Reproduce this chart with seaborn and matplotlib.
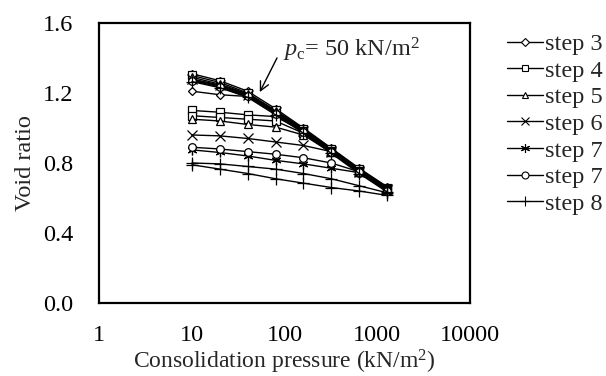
import numpy as np
import pandas as pd
import matplotlib
matplotlib.use("Agg")
import matplotlib.pyplot as plt
from matplotlib.ticker import FixedLocator, FormatStrFormatter, NullLocator
import seaborn as sns

# consolidation pressure (kN/m2) of the load steps
pressure = [10, 20, 40, 80, 160, 320, 640, 1280]

# void ratio, several curves per step
step3_a = [1.31, 1.27, 1.21, 1.11, 1.00, 0.885, 0.77, 0.665]
step3_b = [1.21, 1.19, 1.18, 1.10, 0.99, 0.88, 0.765, 0.66]
step4_a = [1.30, 1.26, 1.20, 1.10, 0.995, 0.88, 0.765, 0.66]
step4_b = [1.10, 1.09, 1.075, 1.065, 0.98, 0.87, 0.755, 0.65]
step4_c = [1.07, 1.06, 1.05, 1.04, 0.97, 0.865, 0.75, 0.645]
step5_a = [1.29, 1.25, 1.195, 1.095, 0.99, 0.875, 0.76, 0.655]
step5_b = [1.05, 1.04, 1.02, 1.005, 0.96, 0.86, 0.75, 0.645]
step6_a = [1.28, 1.245, 1.19, 1.09, 0.985, 0.87, 0.755, 0.65]
step6_b = [0.96, 0.955, 0.94, 0.92, 0.90, 0.865, 0.75, 0.645]
step7s_a = [1.275, 1.24, 1.185, 1.085, 0.98, 0.865, 0.75, 0.645]
step7s_b = [0.875, 0.86, 0.84, 0.815, 0.795, 0.77, 0.745, 0.64]
step7c_a = [1.27, 1.235, 1.18, 1.08, 0.975, 0.86, 0.745, 0.64]
step7c_b = [0.89, 0.88, 0.865, 0.85, 0.83, 0.80, 0.75, 0.64]
step8_a = [1.265, 1.23, 1.175, 1.075, 0.97, 0.855, 0.74, 0.635]
step8_b = [0.80, 0.795, 0.78, 0.765, 0.74, 0.71, 0.67, 0.63]
step8_c = [0.79, 0.765, 0.74, 0.71, 0.685, 0.66, 0.64, 0.615]

step_labels = ["step 3", "step 4", "step 5", "step 6", "step 7", "step 7", "step 8"]
step_curves = [
    [step3_a, step3_b],
    [step4_a, step4_b, step4_c],
    [step5_a, step5_b],
    [step6_a, step6_b],
    [step7s_a, step7s_b],
    [step7c_a, step7c_b],
    [step8_a, step8_b, step8_c],
]
step_markers = ["D", "s", "^", "x", (6, 2, 0), "o", "+"]
marker_sizes = [4.5, 5.5, 5.5, 6.5, 7, 5.5, 8]

FS = 17.5

sns.set_style("white")
plt.rcParams["font.family"] = ["Liberation Serif", "DejaVu Serif"]
plt.rcParams["mathtext.fontset"] = "custom"
plt.rcParams["mathtext.rm"] = "Liberation Serif"
plt.rcParams["mathtext.it"] = "Liberation Serif:italic"

fig = plt.figure(figsize=(6.06, 3.76), dpi=100)
ax = fig.add_axes([0.164, 0.194, 0.611, 0.745])

handles = []
for i in range(len(step_labels)):
    for vals in step_curves[i]:
        df = pd.DataFrame({"p": pressure, "e": vals})
        sns.lineplot(data=df, x="p", y="e", ax=ax, color="black", lw=1.0,
                     marker=step_markers[i], markersize=marker_sizes[i],
                     markerfacecolor="white", markeredgecolor="black",
                     markeredgewidth=0.9, legend=False)
    h, = ax.plot([], [], color="black", lw=1.0, marker=step_markers[i],
                 markersize=marker_sizes[i] - 0.5, markerfacecolor="white",
                 markeredgecolor="black", markeredgewidth=0.8)
    handles.append(h)

ax.set_xscale("log")
ax.set_xlim(1, 10000)
ax.set_ylim(0, 1.6)
ax.xaxis.set_major_locator(FixedLocator([1, 10, 100, 1000, 10000]))
ax.xaxis.set_minor_locator(NullLocator())
ax.set_xticklabels(["1", "10", "100", "1000", "10000"])
ax.yaxis.set_major_locator(FixedLocator([0, 0.4, 0.8, 1.2, 1.6]))
ax.yaxis.set_major_formatter(FormatStrFormatter("%.1f"))
ax.tick_params(direction="in", length=5, width=1.2, labelsize=FS,
               colors="black")
ax.tick_params(axis="x", pad=16)
ax.tick_params(axis="y", pad=19)
for s in ax.spines.values():
    s.set_linewidth(1.6)
    s.set_color("black")

ax.set_xlabel("Consolidation pressure (kN/m$^2$)", fontsize=17, labelpad=1)
ax.set_ylabel("Void ratio", fontsize=FS, labelpad=5)

ax.annotate("", xy=(54, 1.205), xytext=(83, 1.40),
            arrowprops=dict(arrowstyle="->", color="black", lw=1.0,
                            shrinkA=0, shrinkB=0, mutation_scale=16))
ax.text(96, 1.445, "$p_{\\mathrm{c}}$= 50 kN/m$^2$", fontsize=FS,
        ha="left", va="center")

fig.legend(handles, step_labels, loc="upper left", bbox_to_anchor=(0.837, 0.912),
           frameon=False, fontsize=FS, handlelength=1.48, handletextpad=0.08,
           labelspacing=0.19, borderpad=0, borderaxespad=0)

fig.savefig("out.png", dpi=100)
